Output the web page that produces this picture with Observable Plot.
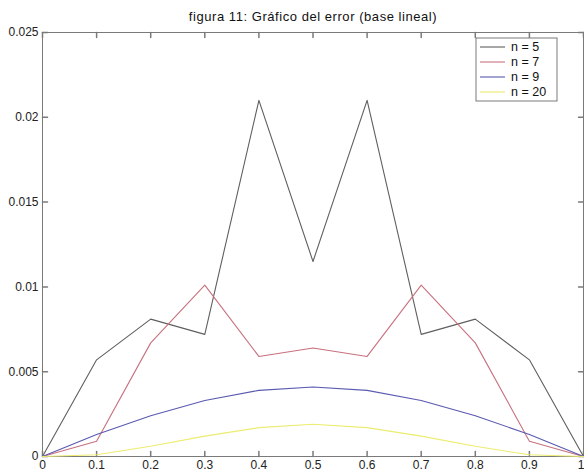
<!DOCTYPE html>
<html>
<head>
<meta charset="utf-8">
<script src="https://cdn.jsdelivr.net/npm/d3@7"></script>
<script src="https://cdn.jsdelivr.net/npm/@observablehq/plot@0.6"></script>
<style>
  html, body { margin: 0; padding: 0; background: #fff; }
  #chart svg { display: block; }
</style>
</head>
<body>
<div id="chart"></div>
<script>
const title = "figura 11: Gráfico del error (base lineal)";
const xs = [0, 0.1, 0.2, 0.3, 0.4, 0.5, 0.6, 0.7, 0.8, 0.9, 1];
const seriesNames = ["n = 5", "n = 7", "n = 9", "n = 20"];
const seriesColors = ["#5f5f5f", "#c8707e", "#5a5ab0", "#ecec70"];
const n5  = [0, 0.0057, 0.0081, 0.0072, 0.0210, 0.0115, 0.0210, 0.0072, 0.0081, 0.0057, 0];
const n7  = [0, 0.0009, 0.0067, 0.0101, 0.0059, 0.0064, 0.0059, 0.0101, 0.0067, 0.0009, 0];
const n9  = [0, 0.0013, 0.0024, 0.0033, 0.0039, 0.0041, 0.0039, 0.0033, 0.0024, 0.0013, 0];
const n20 = [0, 0.0001, 0.0006, 0.0012, 0.0017, 0.0019, 0.0017, 0.0012, 0.0006, 0.0001, 0];
const xTicks = [0, 0.1, 0.2, 0.3, 0.4, 0.5, 0.6, 0.7, 0.8, 0.9, 1];
const yTicks = [0, 0.005, 0.01, 0.015, 0.02, 0.025];

const allSeries = [n5, n7, n9, n20];
const rows = [];
allSeries.forEach((vals, i) => vals.forEach((v, j) => rows.push({x: xs[j], y: v, s: seriesNames[i]})));

const W = 584, H = 473;
const mT = 32, mB = 17, mL = 42, mR = 1;
const tick = 5;
const axisColor = "#7a7a7a";
const font = "Liberation Sans, Arial, sans-serif";
const stick = {draw(context, l) { context.moveTo(0, 0); context.lineTo(0, -l); }};
const fmtX = d => String(+d.toFixed(1));

const plot = Plot.plot({
  width: W, height: H,
  marginTop: mT, marginBottom: mB, marginLeft: mL, marginRight: mR,
  style: {fontFamily: font, fontSize: "12px", color: "#222", background: "#fff"},
  x: {domain: [0, 1], label: null},
  y: {domain: [0, 0.025], label: null},
  color: {domain: seriesNames, range: seriesColors},
  marks: [
    Plot.frame({stroke: axisColor, strokeWidth: 1}),
    Plot.vector(xTicks, {x: d => d, frameAnchor: "bottom", length: tick, rotate: 0, anchor: "start", shape: stick, stroke: axisColor}),
    Plot.vector(xTicks, {x: d => d, frameAnchor: "top", length: tick, rotate: 180, anchor: "start", shape: stick, stroke: axisColor}),
    Plot.vector(yTicks, {y: d => d, frameAnchor: "left", length: tick, rotate: 90, anchor: "start", shape: stick, stroke: axisColor}),
    Plot.vector(yTicks, {y: d => d, frameAnchor: "right", length: tick, rotate: -90, anchor: "start", shape: stick, stroke: axisColor}),
    Plot.axisX({ticks: xTicks.slice(0, -1), tickSize: 0, tickPadding: 4, tickFormat: fmtX, fontSize: 12}),
    Plot.axisX({ticks: xTicks.slice(-1), tickSize: 0, tickPadding: 4, tickFormat: fmtX, fontSize: 12, textAnchor: "end", dx: 1}),
    Plot.axisY({ticks: yTicks, tickSize: 0, tickPadding: 4, tickFormat: d => String(+d.toFixed(3)), fontSize: 12}),
    Plot.line(rows, {x: "x", y: "y", z: "s", stroke: "s", strokeWidth: 1.1}),
    Plot.text([title], {frameAnchor: "top", lineAnchor: "bottom", dy: -12, text: d => d, fontSize: 13, fill: "#111"})
  ]
});
document.getElementById("chart").appendChild(plot);
// slight letter spacing on the title, like the stretched original
d3.select(plot).selectAll("text").filter(function() { return this.textContent === title; })
  .attr("letter-spacing", "0.55px");

// Legend inside the plot area (top-right), like the MATLAB figure
const svg = d3.select(plot);
const lx = 476, ly = 38, lw = 81, lh = 63;
const g = svg.append("g").attr("font-family", font).attr("font-size", 12.5).attr("text-anchor", "start");
g.append("rect").attr("x", lx).attr("y", ly).attr("width", lw).attr("height", lh)
  .attr("fill", "#fff").attr("stroke", axisColor);
seriesNames.forEach((name, i) => {
  const yy = ly + 9 + i * 15;
  g.append("line").attr("x1", lx + 4).attr("x2", lx + 29).attr("y1", yy).attr("y2", yy)
    .attr("stroke", seriesColors[i]).attr("stroke-width", 1.1);
  g.append("text").attr("x", lx + 35).attr("y", yy).attr("dy", "0.35em").attr("fill", "#111").text(name);
});
</script>
</body>
</html>
